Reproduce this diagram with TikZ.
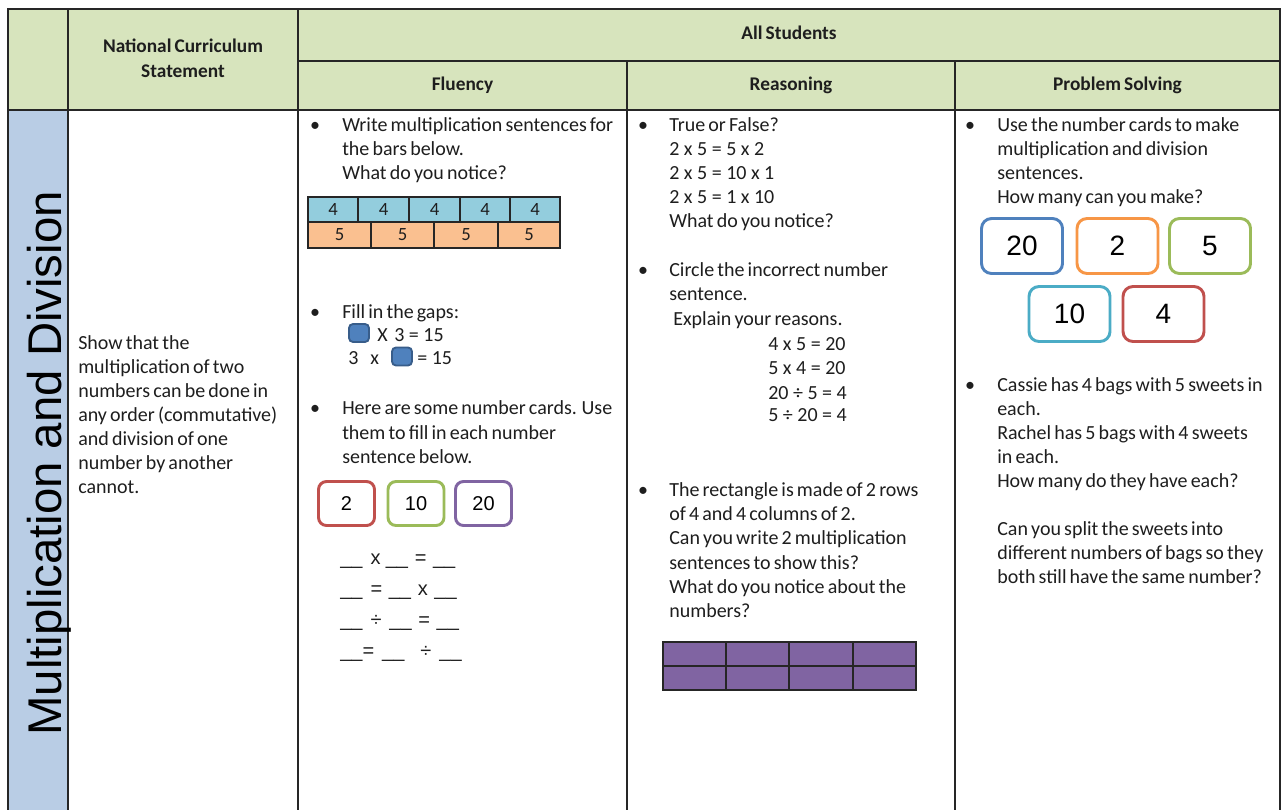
\documentclass[tikz,border=0pt]{standalone}
\usepackage{fontspec}
\setmainfont[WordSpace=0.7]{Carlito}
\newfontfamily\eqfont{Carlito}
\newfontfamily\arial{Liberation Sans}
\definecolor{hdr}{HTML}{D7E4BD}
\definecolor{side}{HTML}{B9CDE5}
\definecolor{barblue}{HTML}{93CDDD}
\definecolor{barorange}{HTML}{FAC090}
\definecolor{sqblue}{HTML}{4F81BD}
\definecolor{sqborder}{HTML}{385D8A}
\definecolor{cred}{HTML}{C0504D}
\definecolor{cgreen}{HTML}{9BBB59}
\definecolor{cpurple}{HTML}{8064A2}
\definecolor{corange}{HTML}{F79646}
\definecolor{ccyan}{HTML}{4BACC6}
\definecolor{cblue}{HTML}{4F81BD}
\definecolor{rulec}{HTML}{262626}
\definecolor{txt}{HTML}{1E1E1E}
\newcommand{\bl}{\_\_}
\begin{document}
\begin{tikzpicture}[x=0.75pt,y=-0.75pt,
  tab/.style={draw=rulec,line width=1.2pt},
  body/.style={font=\fontsize{15}{18}\selectfont,anchor=base west,inner sep=0pt,text=txt},
  eqn/.style={font=\eqfont\fontsize{15}{18}\selectfont,anchor=base west,inner sep=0pt,text=txt},
  bul/.style={font=\fontsize{15}{18}\selectfont,anchor=base,inner sep=0pt,text=txt},
  head/.style={font=\bfseries\fontsize{14.5}{18}\selectfont,anchor=base,inner sep=0pt,text=txt},
  blank/.style={font=\arial\fontsize{15}{18}\selectfont,anchor=base west,inner sep=0pt,text=txt},
  barcell/.style={font=\fontsize{14}{16}\selectfont,text=txt,inner sep=0pt},
  fcard/.style={draw=#1,line width=2.2pt,rounded corners=6pt,minimum width=42pt,minimum height=33pt,inner sep=0pt,font=\arial\fontsize{15}{18}\selectfont,text=black},
  pcard/.style={draw=#1,line width=2.2pt,rounded corners=7.5pt,minimum width=60.75pt,minimum height=41.25pt,inner sep=0pt,font=\arial\fontsize{21}{24}\selectfont,text=black},
  sq/.style={fill=sqblue,draw=sqborder,line width=1.4pt,rounded corners=3pt,minimum width=15pt,minimum height=13.5pt,inner sep=0pt}
]
\useasboundingbox (0,0) rectangle (1282,810);
\fill[white] (0,0) rectangle (1282,810);
% table fills
\fill[hdr] (8,9) rectangle (1280,110);
\fill[side] (8,110) rectangle (68,810);
% table rules
\draw[tab] (8,810) -- (8,9) -- (1280,9) -- (1280,810);
\draw[tab] (298,61) -- (1280,61);
\draw[tab] (8,110) -- (1280,110);
\draw[tab] (68,9) -- (68,810);
\draw[tab] (298,9) -- (298,810);
\draw[tab] (627,61) -- (627,810);
\draw[tab] (955,61) -- (955,810);
% headers
\node[head] (hall) at (789,39) {All Students};
\node[head] (hnc1) at (183,52) {National Curriculum};
\node[head] (hnc2) at (183,77) {Statement};
\node[head] (hflu) at (462.5,90) {Fluency};
\node[head] (hrea) at (791,90) {Reasoning};
\node[head] (hps) at (1117.5,90) {Problem Solving};
% side label
\node[font=\arial\fontsize{35.5}{40}\selectfont,anchor=base west,rotate=90,inner sep=0pt,text=black] (side) at (61,736) {Multiplication and Division};
% national curriculum statement
\foreach \t/\yy [count=\i] in {Show that the/349,multiplication of two/373,numbers can be done in/397,any order (commutative)/421,and division of one/445,number by another/469,cannot./493}
  \node[body] (nc\i) at (78,\yy) {\t};
% ---------- Fluency ----------
\node[bul] (fb1) at (315,131) {\textbullet};
\foreach \t/\yy [count=\i] in {Write multiplication sentences for/131,the bars below./155,What do you notice?/179}
  \node[body] (fa\i) at (342,\yy) {\t};
\foreach \a/\b [count=\i] in {308/358,358/409,409/460,460/510,510/560}{
  \draw[fill=barblue,draw=rulec,line width=0.9pt] (\a,197) rectangle (\b,222);
  \node[barcell] (bt\i) at ({(\a+\b)/2},209.5) {4};
}
\foreach \a/\b [count=\i] in {308/371,371/434,434/498,498/560}{
  \draw[fill=barorange,draw=rulec,line width=0.9pt] (\a,222) rectangle (\b,248);
  \node[barcell] (bb\i) at ({(\a+\b)/2},235) {5};
}
\node[bul] (fb2) at (315,318) {\textbullet};
\node[body] (fg1) at (342,318) {Fill in the gaps:};
\node[sq] (sq1) at (359,333) {};
\node[eqn] (fg2) at (377,341) {X\hspace{5pt}3 = 15};
\node[eqn] (fg3) at (348,364) {3\hspace{9pt}x};
\node[sq] (sq2) at (402,356.5) {};
\node[eqn] (fg4) at (417,364) {= 15};
\node[bul] (fb3) at (315,414) {\textbullet};
\foreach \t/\yy [count=\i] in {Here are some number cards. Use/414,them to fill in each number/439,sentence below./463}
  \node[body] (fh\i) at (342,\yy) {\t};
\node[fcard=cred] (fc1) at (346.5,503.5) {2};
\node[fcard=cgreen] (fc2) at (416,503.5) {10};
\node[fcard=cpurple] (fc3) at (483.5,503.5) {20};
\node[blank] (eq1) at (340,564) {\bl\hspace{6pt}x\hspace{4pt}\bl\hspace{5pt}=\hspace{5pt}\bl};
\node[blank] (eq2) at (340,595) {\bl\hspace{6pt}=\hspace{5pt}\bl\hspace{5pt}x\hspace{5pt}\bl};
\node[blank] (eq3) at (340,626) {\bl\hspace{6pt}÷\hspace{6pt}\bl\hspace{5pt}=\hspace{5pt}\bl};
\node[blank] (eq4) at (340,657) {\bl=\hspace{6pt}\bl\hspace{12pt}÷\hspace{6pt}\bl};
% ---------- Reasoning ----------
\node[bul] (rb1) at (643,131) {\textbullet};
\node[body] (ra1) at (669,131) {True or False?};
\foreach \t/\yy [count=\i] in {2 x 5 = 5 x 2/155,2 x 5 = 10 x 1/179,2 x 5 = 1 x 10/203}
  \node[eqn] (rq\i) at (669,\yy) {\t};
\node[body] (ra2) at (669,227) {What do you notice?};
\node[bul] (rb2) at (643,276) {\textbullet};
\node[body] (rc1) at (669,276) {Circle the incorrect number};
\node[body] (rc2) at (669,300) {sentence.};
\node[body] (rc3) at (673,325) {Explain your reasons.};
\foreach \t/\yy [count=\i] in {4 x 5 = 20/350,5 x 4 = 20/374,20 ÷ 5 = 4/399,5 ÷ 20 = 4/421}
  \node[eqn] (re\i) at (768,\yy) {\t};
\node[bul] (rb3) at (643,496) {\textbullet};
\foreach \t/\yy [count=\i] in {The rectangle is made of 2 rows/496,of 4 and 4 columns of 2./520,Can you write 2 multiplication/544,sentences to show this?/569,What do you notice about the/593,numbers?/617}
  \node[body] (rr\i) at (669,\yy) {\t};
\draw[fill=cpurple,draw=rulec,line width=1.4pt] (663,642) rectangle (916,690);
\draw[draw=rulec,line width=1.4pt] (726,642) -- (726,690) (789,642) -- (789,690) (853,642) -- (853,690) (663,666) -- (916,666);
% ---------- Problem Solving ----------
\node[bul] (pb1) at (970,131) {\textbullet};
\foreach \t/\yy [count=\i] in {Use the number cards to make/131,multiplication and division/155,sentences./179,How many can you make?/203}
  \node[body] (pa\i) at (997,\yy) {\t};
\node[pcard=cblue] (pc1) at (1022,246) {20};
\node[pcard=corange] (pc2) at (1117.5,246) {2};
\node[pcard=cgreen] (pc3) at (1210,246) {5};
\node[pcard=ccyan] (pc4) at (1069.5,314) {10};
\node[pcard=cred] (pc5) at (1163.5,314) {4};
\node[bul] (pb2) at (970,391) {\textbullet};
\foreach \t/\yy [count=\i] in {Cassie has 4 bags with 5 sweets in/391,each./415,Rachel has 5 bags with 4 sweets/439,in each./463,How many do they have each?/487,Can you split the sweets into/535,different numbers of bags so they/559,both still have the same number?/583}
  \node[body] (ps\i) at (997,\yy) {\t};
\end{tikzpicture}
\end{document}
